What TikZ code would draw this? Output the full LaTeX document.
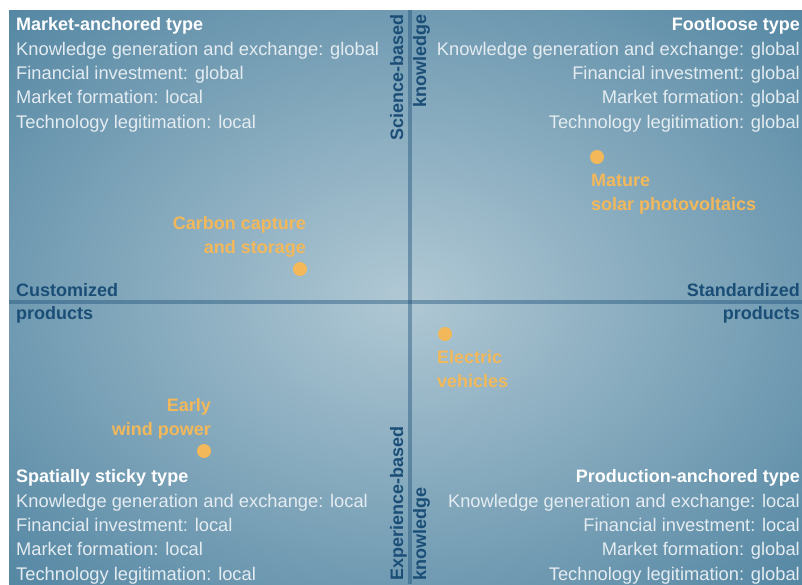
\documentclass[tikz,border=0pt]{standalone}
\usepackage{fontspec}
\setmainfont{Liberation Sans}
\usetikzlibrary{calc}

\definecolor{glowin}{HTML}{B0C8D4}
\definecolor{glowmid}{HTML}{2F6C8F}
\definecolor{glowout}{HTML}{1A567C}
\definecolor{axisblue}{HTML}{1B4E77}
\definecolor{techorange}{HTML}{F2B85A}
\definecolor{itemgrey}{HTML}{E4ECF1}
\pgfdeclareradialshading{bgglow}{\pgfpoint{0bp}{0bp}}{color(0bp)=(glowin); color(50bp)=(glowmid); color(71bp)=(glowout)}

\begin{document}
\begin{tikzpicture}[x=1pt, y=-1pt,
    quad/.style={inner sep=0pt, text=itemgrey, font=\fontsize{18.3}{24.3}\selectfont},
    axislabel/.style={inner sep=0pt, text=axisblue, font=\fontsize{18}{22.8}\selectfont\bfseries},
    tech/.style={inner sep=0pt, text=techorange, font=\fontsize{18}{23.8}\selectfont\bfseries},
    dot/.style={circle, fill=techorange, inner sep=0pt, minimum size=14pt},
    axis/.style={line width=4pt, draw=axisblue, draw opacity=0.42}]

  \useasboundingbox (0,0) rectangle (802,584);
  \shade[shading=bgglow] (9,10) rectangle (802,584);

  % axes
  \coordinate (L) at (9,301.5);
  \coordinate (R) at (802,301.5);
  \coordinate (T) at (409.5,10);
  \coordinate (B) at (409.5,584);
  \draw[axis] (L) -- (R);
  \draw[axis] (T) -- (B);

  % quadrant types
  \node[quad, align=left, anchor=north west] (market) at (16,17.6)
    {\textbf{\fontsize{18}{24.3}\selectfont\color{white}Market-anchored type}\\Knowledge generation and exchange: global\\
     Financial investment: global\\Market formation: local\\Technology legitimation: local};
  \node[quad, align=right, anchor=north east] (footloose) at (800,17.6)
    {\textbf{\fontsize{18}{24.3}\selectfont\color{white}Footloose type}\\Knowledge generation and exchange: global\\
     Financial investment: global\\Market formation: global\\Technology legitimation: global};
  \node[quad, align=left, anchor=north west] (sticky) at (16,469.6)
    {\textbf{\fontsize{18}{24.3}\selectfont\color{white}Spatially sticky type}\\Knowledge generation and exchange: local\\
     Financial investment: local\\Market formation: local\\Technology legitimation: local};
  \node[quad, align=right, anchor=north east] (production) at (800,469.6)
    {\textbf{\fontsize{18}{24.3}\selectfont\color{white}Production-anchored type}\\Knowledge generation and exchange: local\\
     Financial investment: local\\Market formation: global\\Technology legitimation: global};

  % axis labels
  \node[axislabel, align=left, anchor=north west] (custom) at (16,283.6) {Customized\\products};
  \node[axislabel, align=right, anchor=north east] (standard) at (800,283.6) {Standardized\\products};
  \node[axislabel, align=right, anchor=east, rotate=90] (science) at (410,14.5) {Science-based\\knowledge};
  \node[axislabel, align=left, anchor=west, rotate=90] (experience) at (410,581) {Experience-based\\knowledge};

  % technologies
  \node[dot] (ccs) at (300,269) {};
  \node[tech, align=right, anchor=north east] (ccslabel) at (306,216.4) {Carbon capture\\and storage};
  \node[dot] (pv) at (597,157) {};
  \node[tech, align=left, anchor=north west] (pvlabel) at (591,174.4) {Mature\\solar photovoltaics};
  \node[dot] (ev) at (445,334) {};
  \node[tech, align=left, anchor=north west] (evlabel) at (437,350.4) {Electric\\vehicles};
  \node[dot] (wind) at (204,451) {};
  \node[tech, align=right, anchor=north east] (windlabel) at (211,398.4) {Early\\wind power};
\end{tikzpicture}
\end{document}
